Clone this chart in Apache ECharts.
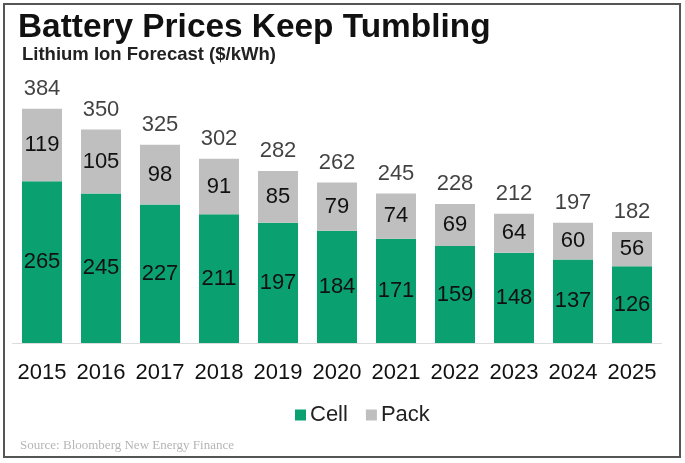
<!DOCTYPE html>
<html>
<head>
<meta charset="utf-8">
<script src="https://cdn.jsdelivr.net/npm/echarts@6/dist/echarts.min.js"></script>
<style>
html,body{margin:0;padding:0;background:#fff;}
#chart{width:685px;height:463px;}
</style>
</head>
<body>
<div id="chart"></div>
<script>
const years = ['2015','2016','2017','2018','2019','2020','2021','2022','2023','2024','2025'];
const cellValues = [265,245,227,211,197,184,171,159,148,137,126];
const packValues = [119,105,98,91,85,79,74,69,64,60,56];
const totalValues = [384,350,325,302,282,262,245,228,212,197,182];

const FONT = '"Liberation Sans", Arial, Helvetica, sans-serif';
const chart = echarts.init(document.getElementById('chart'), null, {renderer:'canvas'});
chart.setOption({
  animation: false,
  backgroundColor: '#fff',
  title: [
    {text: 'Battery Prices Keep Tumbling', left: 18, top: 11, padding: 0,
     textStyle: {fontFamily: FONT, fontSize: 33.4, fontWeight: 'bold', color: '#111'}},
    {text: 'Lithium Ion Forecast ($/kWh)', left: 22, top: 45, padding: 0,
     textStyle: {fontFamily: FONT, fontSize: 18.5, fontWeight: 'bold', color: '#222'}}
  ],
  graphic: [
    {type: 'rect', shape: {x: 4, y: 4, width: 676, height: 453},
     style: {fill: 'none', stroke: '#555', lineWidth: 2}},
    {type: 'text', left: 20, top: 439,
     style: {text: 'Source: Bloomberg New Energy Finance', fill: '#b5b5b5',
             font: '13px "Liberation Serif", "DejaVu Serif", serif'}}
  ],
  legend: {
    data: ['Cell','Pack'],
    left: 295, top: 404, padding: 0,
    itemWidth: 11, itemHeight: 11, itemGap: 18,
    icon: 'rect',
    textStyle: {fontFamily: FONT, fontSize: 22, color: '#222', padding: [0,0,0,-1]}
  },
  grid: {left: 12.5, right: 23.5, top: 99, bottom: 120, containLabel: false},
  xAxis: {
    type: 'category', data: years,
    axisLine: {show: true, lineStyle: {color: '#dcdcdc', width: 1}},
    axisTick: {show: false},
    axisLabel: {fontFamily: FONT, fontSize: 22, color: '#111', margin: 19, interval: 0}
  },
  yAxis: {
    type: 'value', min: 0, max: 400, show: false, splitLine: {show: false}
  },
  series: [
    {name: 'Cell', type: 'bar', stack: 'total', data: cellValues, barWidth: 40,
     itemStyle: {color: '#0ba06f'},
     label: {show: true, position: 'inside', fontFamily: FONT, fontSize: 22, color: '#111'}},
    {name: 'Pack', type: 'bar', stack: 'total', data: packValues, barWidth: 40,
     itemStyle: {color: '#bfbfbf'},
     label: {show: true, position: 'inside', fontFamily: FONT, fontSize: 22, color: '#111'}},
    {name: 'Total', type: 'scatter', data: totalValues, symbolSize: 0.01,
     itemStyle: {color: 'rgba(0,0,0,0)'},
     label: {show: true, position: 'top', distance: 9, fontFamily: FONT, fontSize: 22, color: '#111'}}
  ]
});
</script>
</body>
</html>
